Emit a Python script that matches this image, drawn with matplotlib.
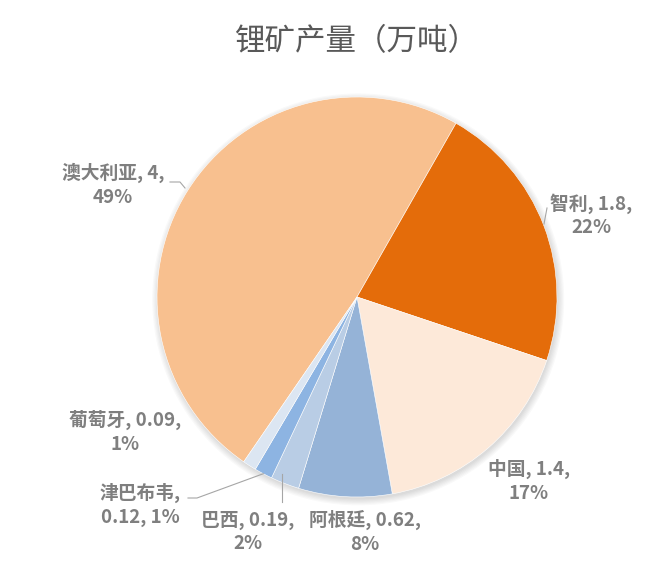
import numpy as np
import matplotlib.pyplot as plt
import matplotlib.patches as mpatch

plt.rcParams['font.family'] = ['Noto Sans CJK SC', 'DejaVu Sans']

# data
countries = ['澳大利亚', '智利', '中国', '阿根廷', '巴西', '津巴布韦', '葡萄牙']
values = [4, 1.8, 1.4, 0.62, 0.19, 0.12, 0.09]
percents = ['49%', '22%', '17%', '8%', '2%', '1%', '1%']
colors = ['#F8C08F', '#E46C0A', '#FDE9D9', '#95B3D7', '#B9CDE5', '#8DB4E2', '#DCE6F2']

W, H = 670, 568
cx, cy, R = 357, 297, 200

def pos(px, py):
    # pixel position -> data coords (pie radius is 1)
    return (px - cx) / R, (cy - py) / R

fig = plt.figure(figsize=(W / 100, H / 100), dpi=100)
ax = fig.add_axes([0, 0, 1, 1])

# faint shadow
for k in range(6):
    ax.add_patch(mpatch.Circle((0.006, -0.012), 1.0 + 0.006 * k, color='k',
                               alpha=0.025, lw=0, zorder=0))

wedges, _ = ax.pie(values, colors=colors, radius=1, center=(0, 0),
                   startangle=-124.5, counterclock=False, frame=True,
                   wedgeprops=dict(edgecolor='white', linewidth=0.4))
ax.set_xlim(-cx / R, (W - cx) / R)
ax.set_ylim(-(H - cy) / R, cy / R)
ax.set_aspect('equal')
ax.axis('off')

tc = '#7F7F7F'
fs = 13.5
labels = [
    ('%s, %s,\n%s' % (countries[0], values[0], percents[0]), 113, 185),
    ('%s, %s,\n%s' % (countries[1], values[1], percents[1]), 591, 215),
    ('%s, %s,\n%s' % (countries[2], values[2], percents[2]), 529, 481),
    ('%s, %s,\n%s' % (countries[3], values[3], percents[3]), 365, 532),
    ('%s, %s,\n%s' % (countries[4], values[4], percents[4]), 248, 532),
    ('%s,\n%s, %s' % (countries[5], values[5], percents[5]), 140, 505),
    ('%s, %s,\n%s' % (countries[6], values[6], percents[6]), 125, 432),
]
for txt, px, py in labels:
    x, y = pos(px, py)
    ax.text(x, y, txt, ha='center', va='center', fontsize=fs, color=tc,
            fontweight='bold', linespacing=1.3)

def edge_point(w, r=1.0, off=0.0):
    a = np.deg2rad((w.theta1 + w.theta2) / 2 + off)
    return r * np.cos(a), r * np.sin(a)

lc = '#A6A6A6'
# 澳大利亚 leader
p1 = pos(170, 182); p2 = pos(180, 182); p3 = pos(185, 188)
ax.plot([p1[0], p2[0], p3[0]], [p1[1], p2[1], p3[1]], color=lc, lw=0.8)
# 智利 leader
p1 = pos(547, 208); p2 = pos(544, 224)
ax.plot([p1[0], p2[0]], [p1[1], p2[1]], color=lc, lw=0.8)
# 巴西 leader
bx, by = edge_point(wedges[4], 0.96, -2)
p1 = pos(0, 502)
ax.plot([bx, bx], [by, p1[1]], color=lc, lw=0.8)
# 津巴布韦 leader
zx, zy = edge_point(wedges[5], 1.0)
p1 = pos(188, 498); p2 = pos(197, 498)
ax.plot([p1[0], p2[0], zx], [p1[1], p2[1], zy], color=lc, lw=0.8)

tx, ty = pos(357, 42)
ax.text(tx, ty, '锂矿产量（万吨）', ha='center', va='center', fontsize=22,
        color='#595959')

fig.savefig('out.png', dpi=100)
